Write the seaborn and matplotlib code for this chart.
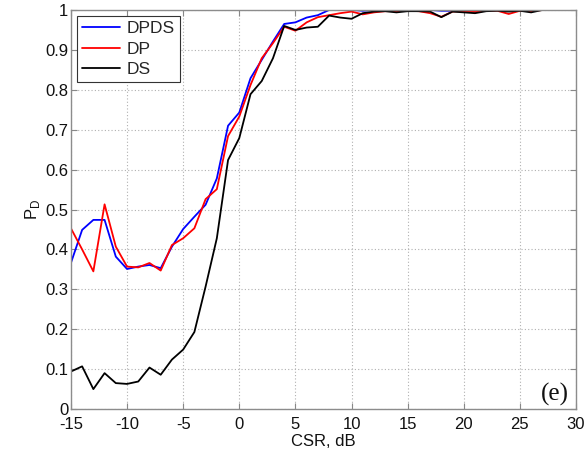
import numpy as np
import pandas as pd
import matplotlib
matplotlib.use("Agg")
import matplotlib.pyplot as plt
import seaborn as sns

# CSR grid (dB) and detection probability for each detector
csr_db = list(range(-15, 31))

pd_dpds = [0.366, 0.449, 0.474, 0.474, 0.382, 0.351, 0.357, 0.361, 0.353, 0.407,
           0.451, 0.482, 0.512, 0.578, 0.710, 0.743, 0.829, 0.875, 0.921, 0.965,
           0.969, 0.981, 0.987, 1.000, 1.000, 1.000, 0.998, 1.000, 1.000, 1.000,
           1.000, 1.000, 1.000, 0.998, 0.998, 1.000, 0.998, 1.000, 1.000, 0.998,
           1.000, 1.000, 1.000, 1.000, 1.000, 1.000]

pd_dp = [0.453, 0.400, 0.345, 0.513, 0.407, 0.357, 0.355, 0.366, 0.347, 0.411,
         0.428, 0.453, 0.526, 0.551, 0.684, 0.733, 0.812, 0.879, 0.917, 0.958,
         0.948, 0.969, 0.982, 0.987, 0.992, 0.996, 0.989, 0.994, 0.997, 0.997,
         0.998, 0.997, 0.992, 0.983, 0.996, 0.997, 0.995, 0.998, 0.998, 0.990,
         0.998, 0.997, 1.000, 1.000, 1.000, 1.000]

pd_ds = [0.094, 0.107, 0.050, 0.090, 0.065, 0.063, 0.069, 0.104, 0.086, 0.124,
         0.149, 0.193, 0.307, 0.428, 0.624, 0.679, 0.789, 0.822, 0.879, 0.960,
         0.950, 0.956, 0.958, 0.986, 0.981, 0.978, 0.992, 0.996, 0.997, 0.994,
         0.997, 0.997, 0.996, 0.982, 0.996, 0.994, 0.992, 0.997, 0.998, 0.996,
         0.998, 0.994, 1.000, 1.000, 1.000, 1.000]

methods = ["DPDS", "DP", "DS"]
colors = {"DPDS": "#0000ff", "DP": "#ff0000", "DS": "#000000"}

x_ticks = list(range(-15, 31, 5))
y_ticks = [0, 0.1, 0.2, 0.3, 0.4, 0.5, 0.6, 0.7, 0.8, 0.9, 1.0]
y_tick_labels = ["0", "0.1", "0.2", "0.3", "0.4", "0.5", "0.6", "0.7", "0.8", "0.9", "1"]

df = pd.concat([
    pd.DataFrame({"CSR": csr_db, "PD": vals, "method": name})
    for name, vals in zip(methods, [pd_dpds, pd_dp, pd_ds])
], ignore_index=True)

sns.set_theme(style="whitegrid")
plt.rcParams["font.family"] = ["Liberation Sans", "DejaVu Sans"]

fig = plt.figure(figsize=(5.86, 4.54), dpi=100)
ax = fig.add_axes([0.121, 0.099, 0.862, 0.879])

sns.lineplot(data=df, x="CSR", y="PD", hue="method", hue_order=methods,
             palette=colors, linewidth=1.3, ax=ax, legend=True)

ax.set_xlim(-15, 30)
ax.set_ylim(0, 1)
ax.set_xticks(x_ticks)
ax.set_xticklabels([str(t) for t in x_ticks])
ax.set_yticks(y_ticks)
ax.set_yticklabels(y_tick_labels)
ax.tick_params(axis="both", direction="in", length=4, labelsize=12,
               width=0.8, top=True, right=True, bottom=True, left=True,
               colors="#888888", labelcolor="#111111")
ax.tick_params(axis="x", pad=6)
ax.tick_params(axis="y", pad=2)
plt.setp(ax.get_yticklabels(), va="center_baseline")

ax.grid(True, linestyle=(0, (1, 2)), color="#b0b0b0", linewidth=0.8)
for side in ["left", "right", "top", "bottom"]:
    ax.spines[side].set_visible(True)
    ax.spines[side].set_color("#8c8c8c")
    ax.spines[side].set_linewidth(1.0)

ax.set_xlabel("CSR, dB", fontsize=12, labelpad=1, color="#111111")
ax.set_ylabel(r"P$_\mathregular{D}$", fontsize=12, labelpad=2, color="#111111")

leg = ax.legend(loc="upper left", fontsize=12.5, frameon=True, fancybox=False,
                borderpad=0.3, handlelength=2.2, handletextpad=0.35,
                labelspacing=0.3, borderaxespad=0.35)
leg.get_frame().set_edgecolor("#333333")
leg.get_frame().set_linewidth(0.8)
leg.get_frame().set_alpha(1.0)
for line in leg.get_lines():
    line.set_linewidth(1.3)

ax.text(0.985, 0.008, "(e)", transform=ax.transAxes, ha="right", va="bottom",
        fontsize=18, family=["Liberation Serif", "DejaVu Serif"], color="#111111")

fig.savefig("out.png", dpi=100)
